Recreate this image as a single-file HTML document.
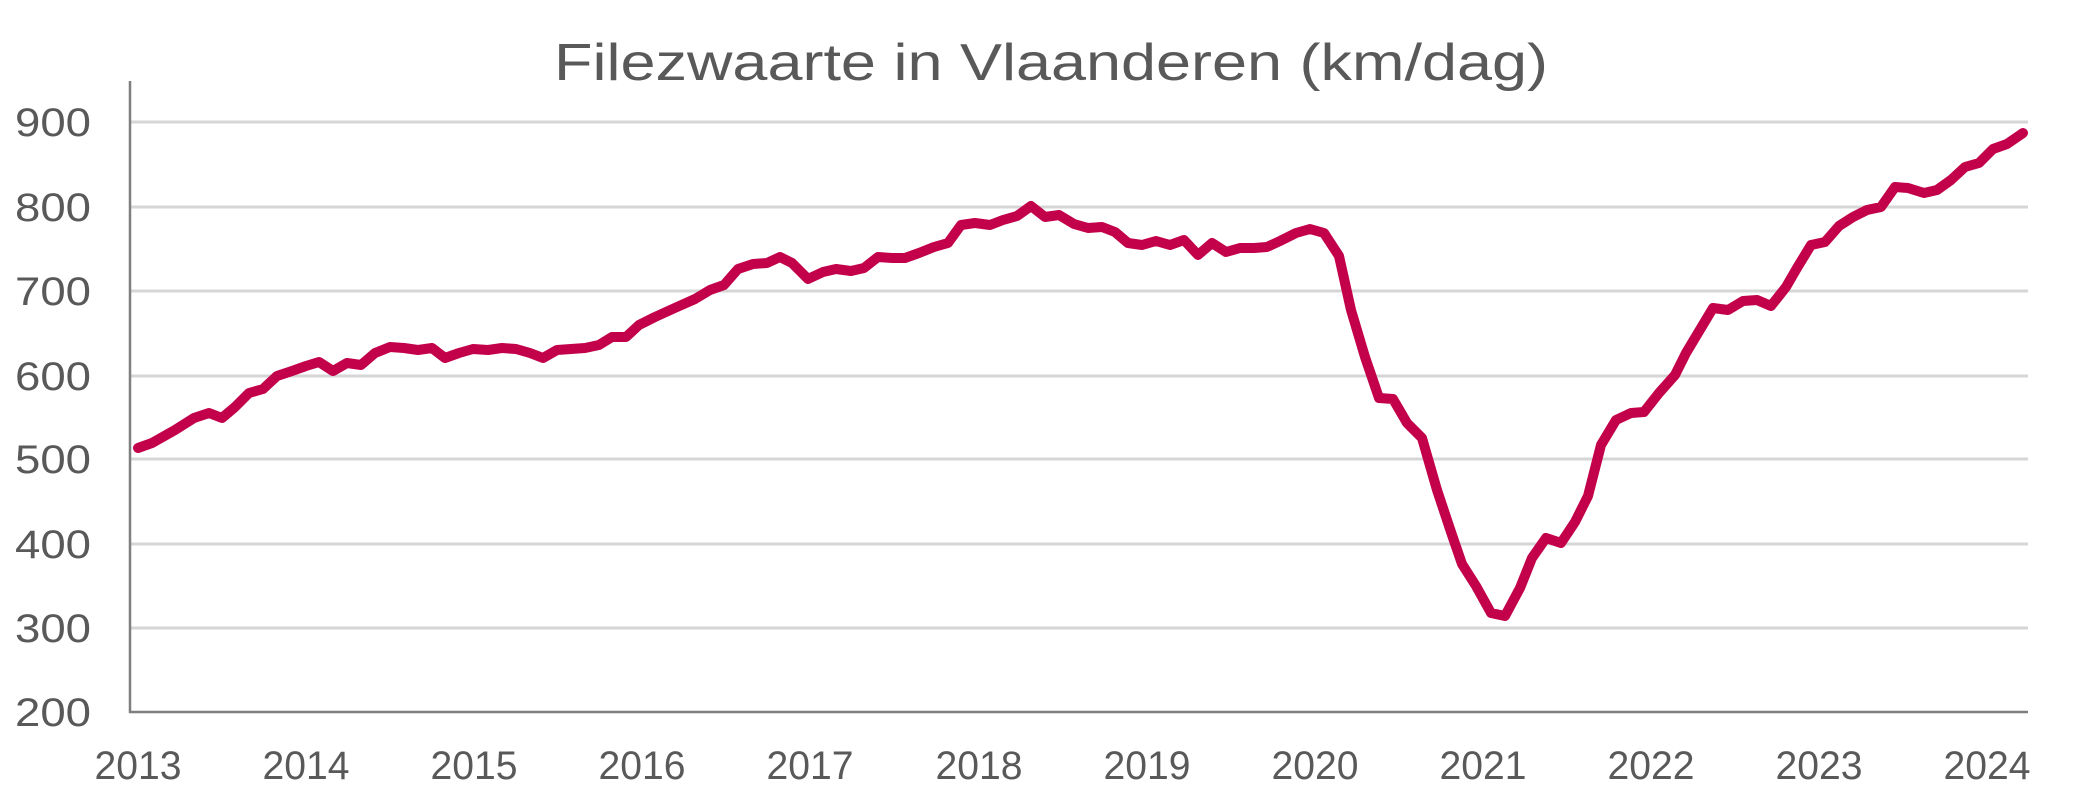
<!DOCTYPE html>
<html><head><meta charset="utf-8"><style>
html,body{margin:0;padding:0;background:#fff;}
svg{display:block;}
text{font-family:"Liberation Sans",sans-serif;fill:#595959;}
</style></head><body>
<svg width="2079" height="787" viewBox="0 0 2079 787" xmlns="http://www.w3.org/2000/svg">
<text x="1051" y="80" font-size="52" text-anchor="middle" textLength="994" lengthAdjust="spacingAndGlyphs">Filezwaarte in Vlaanderen (km/dag)</text>
<g stroke="#d6d6d6" stroke-width="3">
<line x1="131" y1="122" x2="2028" y2="122"/>
<line x1="131" y1="207" x2="2028" y2="207"/>
<line x1="131" y1="291" x2="2028" y2="291"/>
<line x1="131" y1="376" x2="2028" y2="376"/>
<line x1="131" y1="459" x2="2028" y2="459"/>
<line x1="131" y1="544" x2="2028" y2="544"/>
<line x1="131" y1="628" x2="2028" y2="628"/>
</g>
<line x1="130" y1="81" x2="130" y2="713" stroke="#7f7f7f" stroke-width="2.5"/>
<line x1="129" y1="712" x2="2028" y2="712" stroke="#7f7f7f" stroke-width="2.5"/>
<g font-size="40">
<text x="15" y="136" textLength="76" lengthAdjust="spacingAndGlyphs">900</text>
<text x="15" y="221" textLength="76" lengthAdjust="spacingAndGlyphs">800</text>
<text x="15" y="305" textLength="76" lengthAdjust="spacingAndGlyphs">700</text>
<text x="15" y="390" textLength="76" lengthAdjust="spacingAndGlyphs">600</text>
<text x="15" y="473" textLength="76" lengthAdjust="spacingAndGlyphs">500</text>
<text x="15" y="558" textLength="76" lengthAdjust="spacingAndGlyphs">400</text>
<text x="15" y="642" textLength="76" lengthAdjust="spacingAndGlyphs">300</text>
<text x="15" y="726" textLength="76" lengthAdjust="spacingAndGlyphs">200</text>
</g>
<g font-size="40" text-anchor="middle">
<text x="138" y="779" textLength="87" lengthAdjust="spacingAndGlyphs">2013</text>
<text x="306" y="779" textLength="87" lengthAdjust="spacingAndGlyphs">2014</text>
<text x="474" y="779" textLength="87" lengthAdjust="spacingAndGlyphs">2015</text>
<text x="642" y="779" textLength="87" lengthAdjust="spacingAndGlyphs">2016</text>
<text x="810" y="779" textLength="87" lengthAdjust="spacingAndGlyphs">2017</text>
<text x="979" y="779" textLength="87" lengthAdjust="spacingAndGlyphs">2018</text>
<text x="1147" y="779" textLength="87" lengthAdjust="spacingAndGlyphs">2019</text>
<text x="1315" y="779" textLength="87" lengthAdjust="spacingAndGlyphs">2020</text>
<text x="1483" y="779" textLength="87" lengthAdjust="spacingAndGlyphs">2021</text>
<text x="1651" y="779" textLength="87" lengthAdjust="spacingAndGlyphs">2022</text>
<text x="1819" y="779" textLength="87" lengthAdjust="spacingAndGlyphs">2023</text>
<text x="1987" y="779" textLength="87" lengthAdjust="spacingAndGlyphs">2024</text>
</g>
<polyline fill="none" stroke="#c3004a" stroke-width="10" stroke-linejoin="round" stroke-linecap="round" points="
138,448 152,443 175,430 194,418 209,413 222,418 235,407 249,393 263,389 277,376 292,371 306,366 319,362 333,371 347,363 361,365 375,353 390,347 404,348 418,350 432,348 445,358 459,353 473,349 488,350 502,348 516,349 530,353 543,358 557,350 571,349 585,348 599,345 612,337 626,337 639,325 655,317 677,307 695,299 710,290 724,285 738,269 753,264 767,263 780,257 792,263 808,279 823,272 836,269 851,271 864,268 878,257 892,258 905,258 919,253 934,247 948,243 961,225 975,223 990,225 1003,220 1017,216 1031,206 1045,217 1059,215 1074,224 1088,228 1102,227 1115,232 1128,243 1142,245 1156,241 1170,245 1184,240 1198,255 1212,243 1226,252 1240,248 1254,248 1267,247 1280,241 1296,233 1310,229 1324,233 1339,256 1351,310 1365,357 1379,398 1393,399 1407,423 1422,438 1437,490 1451,532 1462,564 1476,586 1491,613 1505,616 1520,588 1532,558 1546,538 1561,543 1575,522 1588,496 1601,445 1616,420 1631,413 1644,412 1659,393 1675,375 1686,353 1698,333 1713,308 1728,310 1743,301 1757,300 1771,306 1786,287 1797,268 1811,245 1825,242 1839,226 1853,217 1867,210 1881,207 1895,187 1908,188 1924,193 1937,190 1951,180 1965,167 1979,163 1993,149 2007,144 2023,133"/>
</svg>
</body></html>
